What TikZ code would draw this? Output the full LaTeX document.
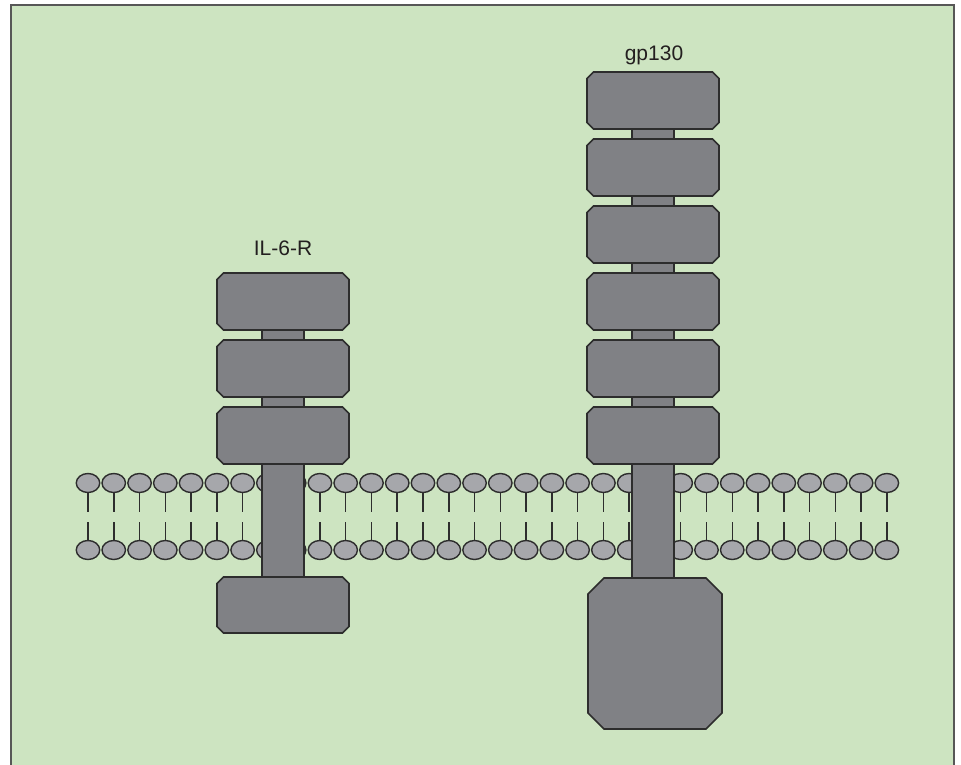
\documentclass[tikz,border=0pt]{standalone}
\usepackage{fontspec}
\setmainfont{Liberation Sans}
\usetikzlibrary{shapes.geometric}
\definecolor{bggreen}{RGB}{205,228,193}
\definecolor{protgray}{RGB}{128,129,133}
\definecolor{headgray}{RGB}{166,167,171}
\definecolor{edgecol}{RGB}{45,45,45}
\definecolor{txtcol}{RGB}{35,31,32}
\tikzset{
  protbox/.style={draw=edgecol, fill=protgray, line width=1.6pt, line join=miter},
  stembar/.style={draw=edgecol, fill=protgray, line width=1.6pt},
  lipidhead/.style={ellipse, minimum width=23.5pt, minimum height=19pt, inner sep=0pt, outer sep=0pt,
    draw=edgecol, fill=headgray, line width=1.4pt},
  lipidtail/.style={draw=edgecol, line width=1.5pt},
  labeltext/.style={font=\fontsize{21}{24}\selectfont, text=txtcol, anchor=base, inner sep=0pt},
  bgframe/.style={draw=edgecol!80, fill=bggreen, line width=1.4pt}
}
% chamfered box: left, top, right, bottom, chamfer
\newcommand\chamfbox[5]{%
  \draw[protbox] (#1+#5,#2) -- (#3-#5,#2) -- (#3,#2+#5) -- (#3,#4-#5) -- (#3-#5,#4)
    -- (#1+#5,#4) -- (#1,#4-#5) -- (#1,#2+#5) -- cycle;}
\begin{document}
\begin{tikzpicture}[x=1pt,y=-1pt]
\useasboundingbox (0,0) rectangle (961,765);
\fill[white] (0,0) rectangle (961,765);
\draw[bgframe] (11,5) -- (954,5) -- (954,775) -- (11,775) -- cycle;
% membrane bilayer
\foreach \i in {0,...,31} {
  \pgfmathsetmacro{\xx}{88+\i*25.77}
  \node[lipidhead] (hu\i) at (\xx,483) {};
  \node[lipidhead] (hl\i) at (\xx,550) {};
  \coordinate (tu\i) at (\xx,512);
  \coordinate (tl\i) at (\xx,522);
  \draw[lipidtail] (hu\i.south) -- (tu\i);
  \draw[lipidtail] (tl\i) -- (hl\i.north);
}
% IL-6-R stem
\draw[stembar] (262,301) rectangle (304,605);
% gp130 stem
\draw[stembar] (632,100) rectangle (674,653);
% IL-6-R domains
\chamfbox{217}{273}{349}{330}{6.5}
\chamfbox{217}{340}{349}{397}{6.5}
\chamfbox{217}{407}{349}{464}{6.5}
\chamfbox{217}{577}{349}{633}{6.5}
% gp130 domains
\foreach \yy in {72,139,206,273,340,407} {
  \chamfbox{587}{\yy}{719}{\yy+57}{6.5}
}
\chamfbox{588}{578}{722}{729}{16}
% labels
\node[labeltext] (lr) at (283,255) {IL-6-R};
\node[labeltext] (lg) at (654,61) {gp130};
\end{tikzpicture}
\end{document}
